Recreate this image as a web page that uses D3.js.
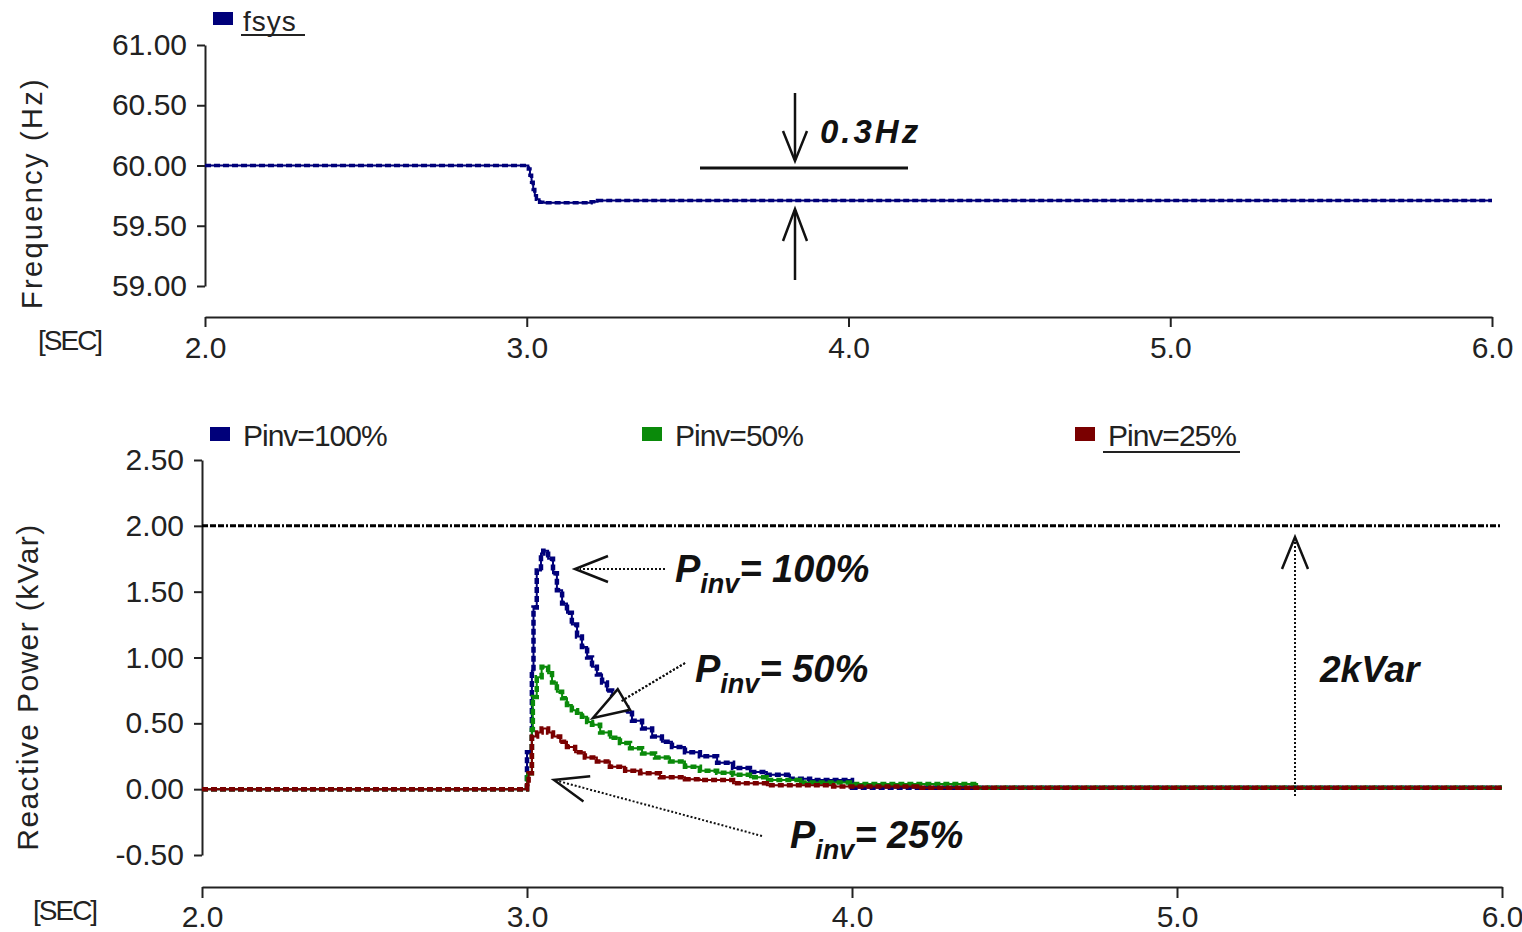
<html>
<head>
<meta charset="utf-8">
<style>
  body { margin: 0; background: #fff; }
  svg { font-family: "Liberation Sans", Arial, sans-serif; }
  .axis text { font-size: 30px; fill: #222; }
  .axis path, .axis line { stroke: #222; stroke-width: 2; }
</style>
<script src="https://cdnjs.cloudflare.com/ajax/libs/d3/7.8.5/d3.min.js"></script>
</head>
<body>
<svg id="chart" width="1522" height="932"></svg>
<script>
// ---- data ----
const freqT = [2.0, 3.0, 3.005, 3.01, 3.015, 3.02, 3.025, 3.03, 3.04, 3.05, 3.1, 3.15, 3.2, 3.22, 6.0];
const freqV = [60.0, 60.0, 59.97, 59.92, 59.86, 59.80, 59.75, 59.72, 59.695, 59.69, 59.69, 59.69, 59.70, 59.71, 59.71];

const p100T = [2.0, 3.0, 3.015, 3.02, 3.03, 3.043, 3.05, 3.065, 3.08, 3.092, 3.108, 3.123, 3.138, 3.154, 3.169, 3.185, 3.2, 3.215, 3.231, 3.246, 3.262, 3.277, 3.292, 3.308, 3.323, 3.354, 3.385, 3.415, 3.446, 3.486, 3.532, 3.585, 3.634, 3.686, 3.738, 3.809, 3.871, 4.0, 6.0];
const p100V = [0, 0.28, 0.9, 1.38, 1.66, 1.79, 1.81, 1.75, 1.64, 1.51, 1.41, 1.34, 1.25, 1.16, 1.08, 1.0, 0.93, 0.87, 0.81, 0.75, 0.70, 0.65, 0.62, 0.58, 0.52, 0.46, 0.40, 0.36, 0.32, 0.28, 0.25, 0.2, 0.16, 0.13, 0.11, 0.08, 0.07, 0.01, 0.01];

const p50T = [2.0, 3.0, 3.015, 3.018, 3.03, 3.045, 3.065, 3.077, 3.092, 3.108, 3.123, 3.138, 3.154, 3.169, 3.185, 3.2, 3.225, 3.255, 3.286, 3.317, 3.354, 3.394, 3.44, 3.486, 3.532, 3.585, 3.634, 3.686, 3.738, 3.84, 3.994, 4.385, 6.0];
const p50V = [0, 0.12, 0.45, 0.70, 0.85, 0.93, 0.88, 0.81, 0.74, 0.69, 0.64, 0.60, 0.58, 0.55, 0.51, 0.49, 0.43, 0.39, 0.35, 0.31, 0.27, 0.24, 0.21, 0.17, 0.14, 0.125, 0.11, 0.09, 0.07, 0.05, 0.04, 0.01, 0.01];

const p25T = [2.0, 3.0, 3.005, 3.015, 3.031, 3.045, 3.065, 3.08, 3.102, 3.123, 3.148, 3.178, 3.215, 3.255, 3.302, 3.348, 3.409, 3.486, 3.532, 3.634, 3.738, 3.942, 4.2, 6.0];
const p25V = [0, 0.03, 0.12, 0.40, 0.43, 0.46, 0.43, 0.40, 0.36, 0.32, 0.28, 0.24, 0.21, 0.17, 0.14, 0.12, 0.09, 0.075, 0.07, 0.045, 0.03, 0.02, 0.01, 0.01];

const limitV = 2.0;
const xTicks = [2.0, 3.0, 4.0, 5.0, 6.0];
const freqTicks = [59.0, 59.5, 60.0, 60.5, 61.0];
const qTicks = [-0.5, 0, 0.5, 1.0, 1.5, 2.0, 2.5];
const seriesNames = ["Pinv=100%", "Pinv=50%", "Pinv=25%"];
const seriesColors = ["#00007a", "#0a8a0a", "#7a0000"];

const svg = d3.select("#chart");
svg.append("rect").attr("width", 1522).attr("height", 932).attr("fill", "#fff");

function zip(t, v) { return t.map((d, i) => ({t: d, v: v[i]})); }

function drawSeries(g, x, y, pts, color, w) {
  let line = d3.line().x(d => x(d.t)).y(d => y(d.v)).curve(d3.curveStepAfter);
  g.append("path").attr("d", line(pts)).attr("fill", "none")
    .attr("stroke", color).attr("stroke-width", 2);
  // marker texture
  g.append("path").attr("d", line(pts)).attr("fill", "none")
    .attr("stroke", color).attr("stroke-width", w).attr("stroke-dasharray", "6,3");
}

function arrowHead(g, tip, from, len, half, closed) {
  let dx = from[0] - tip[0], dy = from[1] - tip[1];
  let L = Math.sqrt(dx*dx + dy*dy); dx /= L; dy /= L;
  let bx = tip[0] + dx*len, by = tip[1] + dy*len;
  let a = [bx - dy*half, by + dx*half], b = [bx + dy*half, by - dx*half];
  let d = "M" + a + "L" + tip + "L" + b + (closed ? "Z" : "");
  g.append("path").attr("d", d).attr("fill", closed ? "#fff" : "none")
    .attr("stroke", "#111").attr("stroke-width", 2.5);
}

function pinvLabel(g, x, y, rest) {
  let t = g.append("text").attr("x", x).attr("y", y)
    .attr("font-size", 38).attr("font-weight", "bold").attr("font-style", "italic").attr("fill", "#111");
  t.append("tspan").text("P");
  t.append("tspan").attr("font-size", 27).attr("dy", 11).text("inv");
  t.append("tspan").attr("dy", -11).text(rest);
}

const fmt2 = d => d.toFixed(2);
const fmt1 = d => d.toFixed(1);

// ---------------- top chart: frequency ----------------
const x1 = d3.scaleLinear().domain([2, 6]).range([205, 1492]);
const y1 = d3.scaleLinear().domain([59, 61]).range([286, 45]);

svg.append("g").attr("class", "axis").attr("transform", "translate(205,0)")
  .call(d3.axisLeft(y1).tickValues(freqTicks).tickFormat(fmt2).tickSize(8).tickSizeOuter(0).tickPadding(10));
svg.append("g").attr("class", "axis").attr("transform", "translate(0,317)")
  .call(d3.axisBottom(x1).tickValues(xTicks).tickFormat(fmt1).tickSize(10).tickSizeOuter(0).tickPadding(10));

svg.append("text").attr("transform", "translate(42,193) rotate(-90)").attr("text-anchor", "middle")
  .attr("font-size", 29).attr("letter-spacing", 2.3).attr("fill", "#222").text("Frequency (Hz)");
svg.append("text").attr("x", 38).attr("y", 350).attr("font-size", 28).attr("letter-spacing", -2).attr("fill", "#222").text("[SEC]");

const topPlot = svg.append("g");
drawSeries(topPlot, x1, y1, zip(freqT, freqV), seriesColors[0], 3.5);

svg.append("rect").attr("x", 213).attr("y", 12).attr("width", 20).attr("height", 13).attr("fill", seriesColors[0]);
svg.append("text").attr("x", 243).attr("y", 31).attr("font-size", 28).attr("letter-spacing", 1).attr("fill", "#222").text("fsys");
svg.append("line").attr("x1", 241).attr("x2", 305).attr("y1", 35).attr("y2", 35).attr("stroke", "#222").attr("stroke-width", 2);

// 0.3Hz annotation
const ann1 = svg.append("g");
ann1.append("line").attr("x1", 700).attr("x2", 908).attr("y1", 168).attr("y2", 168).attr("stroke", "#111").attr("stroke-width", 3);
ann1.append("line").attr("x1", 795).attr("x2", 795).attr("y1", 93).attr("y2", 160).attr("stroke", "#111").attr("stroke-width", 2.5);
arrowHead(ann1, [795, 161], [795, 93], 30, 12, false);
ann1.append("line").attr("x1", 795).attr("x2", 795).attr("y1", 280).attr("y2", 210).attr("stroke", "#111").attr("stroke-width", 2.5);
arrowHead(ann1, [795, 209], [795, 280], 32, 12, false);
ann1.append("text").attr("x", 820).attr("y", 143).attr("font-size", 33).attr("font-weight", "bold")
  .attr("font-style", "italic").attr("letter-spacing", 3).attr("fill", "#111").text("0.3Hz");

// ---------------- bottom chart: reactive power ----------------
const x2 = d3.scaleLinear().domain([2, 6]).range([202, 1502]);
const y2 = d3.scaleLinear().domain([-0.5, 2.5]).range([855, 460]);

svg.append("g").attr("class", "axis").attr("transform", "translate(202,0)")
  .call(d3.axisLeft(y2).tickValues(qTicks).tickFormat(fmt2).tickSize(8).tickSizeOuter(0).tickPadding(10));
svg.append("g").attr("class", "axis").attr("transform", "translate(0,887)")
  .call(d3.axisBottom(x2).tickValues(xTicks).tickFormat(fmt1).tickSize(11).tickSizeOuter(0).tickPadding(8));

svg.append("text").attr("transform", "translate(38,687) rotate(-90)").attr("text-anchor", "middle")
  .attr("font-size", 30).attr("letter-spacing", 1.4).attr("fill", "#222").text("Reactive Power (kVar)");
svg.append("text").attr("x", 33).attr("y", 920).attr("font-size", 28).attr("letter-spacing", -2).attr("fill", "#222").text("[SEC]");

// 2 kVar limit line
svg.append("line").attr("x1", x2(2)).attr("x2", 1500).attr("y1", y2(limitV)).attr("y2", y2(limitV))
  .attr("stroke", "#000").attr("stroke-width", 3).attr("stroke-dasharray", "6,2,6,2,6,2,2,2");

const botPlot = svg.append("g");
[[p100T, p100V], [p50T, p50V], [p25T, p25V]].forEach((s, i) => {
  drawSeries(botPlot, x2, y2, zip(s[0], s[1]), seriesColors[i], 4.5);
});

// legend
const legX = [210, 642, 1075];
seriesNames.forEach((n, i) => {
  svg.append("rect").attr("x", legX[i]).attr("y", 427).attr("width", 20).attr("height", 14).attr("fill", seriesColors[i]);
  svg.append("text").attr("x", legX[i] + 33).attr("y", 446).attr("font-size", 30).attr("letter-spacing", -1)
    .attr("fill", "#222").text(n);
});
svg.append("line").attr("x1", 1103).attr("x2", 1240).attr("y1", 452).attr("y2", 452).attr("stroke", "#222").attr("stroke-width", 2);

// annotations
const ann2 = svg.append("g");
ann2.append("line").attr("x1", 665).attr("x2", 580).attr("y1", 569).attr("y2", 569)
  .attr("stroke", "#111").attr("stroke-width", 2).attr("stroke-dasharray", "2,2");
arrowHead(ann2, [575, 569], [665, 569], 33, 13, false);
pinvLabel(ann2, 675, 582, "= 100%");

ann2.append("line").attr("x1", 685).attr("y1", 663).attr("x2", 596).attr("y2", 716)
  .attr("stroke", "#111").attr("stroke-width", 2).attr("stroke-dasharray", "2,2");
arrowHead(ann2, [593, 718], [685, 663], 36, 12, true);
ann2.append("line").attr("x1", 685).attr("y1", 663).attr("x2", 620).attr("y2", 702)
  .attr("stroke", "#111").attr("stroke-width", 2).attr("stroke-dasharray", "2,2");
pinvLabel(ann2, 695, 682, "= 50%");

ann2.append("line").attr("x1", 762).attr("y1", 836).attr("x2", 558).attr("y2", 781)
  .attr("stroke", "#111").attr("stroke-width", 2).attr("stroke-dasharray", "2,2");
arrowHead(ann2, [554, 780], [762, 836], 34, 13, false);
pinvLabel(ann2, 790, 848, "= 25%");

ann2.append("line").attr("x1", 1295).attr("x2", 1295).attr("y1", 796).attr("y2", 540)
  .attr("stroke", "#111").attr("stroke-width", 2).attr("stroke-dasharray", "2,2");
arrowHead(ann2, [1295, 537], [1295, 796], 32, 13, false);
ann2.append("text").attr("x", 1320).attr("y", 682).attr("font-size", 37).attr("font-weight", "bold")
  .attr("font-style", "italic").attr("fill", "#111").text("2kVar");
</script>
</body>
</html>
